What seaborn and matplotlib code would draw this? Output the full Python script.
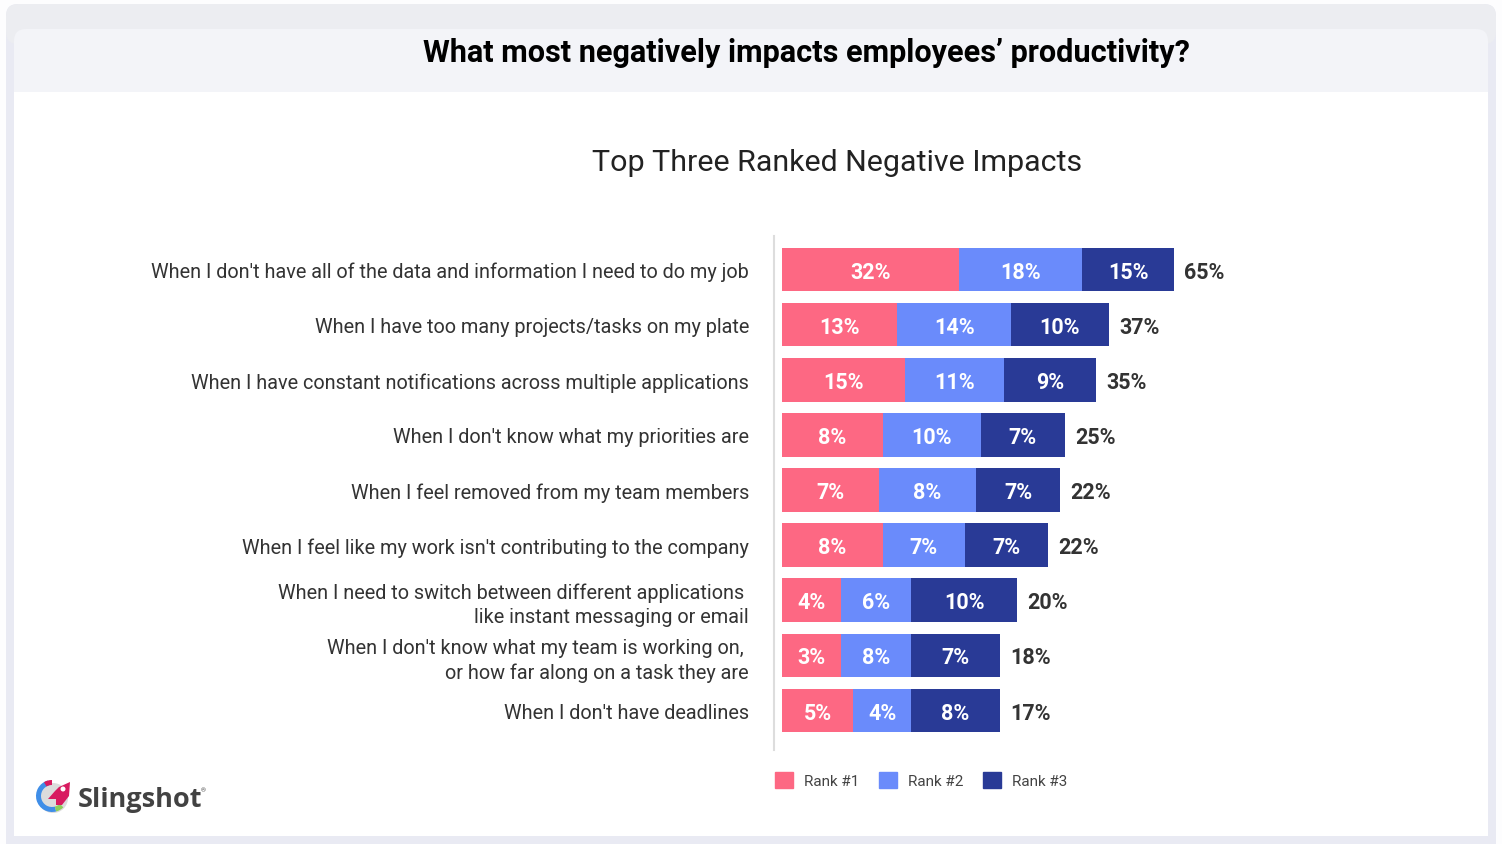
import numpy as np
import pandas as pd
import seaborn as sns
import matplotlib.pyplot as plt
from matplotlib.patches import Rectangle, FancyBboxPatch, Wedge, Polygon, Circle, Patch

categories = ["When I don't have all of the data and information I need to do my job",
              'When I have too many projects/tasks on my plate',
              'When I have constant notifications across multiple applications',
              "When I don't know what my priorities are",
              'When I feel removed from my team members',
              "When I feel like my work isn't contributing to the company",
              'When I need to switch between different applications \nlike instant messaging or email',
              "When I don't know what my team is working on, \nor how far along on a task they are",
              "When I don't have deadlines"]

# printed percentages
rank1_labels = [32, 13, 15, 8, 7, 8, 4, 3, 5]
rank2_labels = [18, 14, 11, 10, 8, 7, 6, 8, 4]
rank3_labels = [15, 10, 9, 7, 7, 7, 10, 7, 8]
total_labels = [65, 37, 35, 25, 22, 22, 20, 18, 17]

# the bars in the picture are not drawn to their printed percentages,
# so these are the segment lengths as read off it (top row total = 65)
rank1_len = [29.4, 19.1, 20.4, 16.7, 16.1, 16.7, 9.8, 9.8, 11.8]
rank2_len = [20.4, 18.9, 16.4, 16.3, 16.1, 13.6, 11.6, 11.6, 9.6]
rank3_len = [15.2, 16.2, 15.3, 13.9, 13.9, 13.8, 17.6, 14.8, 14.8]

rank_names = ['Rank #1', 'Rank #2', 'Rank #3']
rank_colors = ['#fd6883', '#6a8bfb', '#293a96']
text_color = '#333333'

sns.set_theme(style='white')
plt.rcParams['font.family'] = ['Roboto', 'DejaVu Sans']

df = pd.DataFrame({'category': categories, 'r1': rank1_len, 'r2': rank2_len, 'r3': rank3_len})
df['c1'] = df['r1']
df['c2'] = df['c1'] + df['r2']
df['c3'] = df['c2'] + df['r3']

fig = plt.figure(figsize=(15.02, 8.45), dpi=100, facecolor='#fdfdfe')

# card behind the chart, in pixel coordinates
bg = fig.add_axes([0, 0, 1, 1], zorder=0)
bg.set_xlim(0, 1502)
bg.set_ylim(845, 0)
bg.axis('off')
bg.add_patch(FancyBboxPatch((6, 5), 1490, 860, boxstyle='round,pad=0,rounding_size=12', fc='#e9eaf3', ec='none'))
bg.add_patch(FancyBboxPatch((6, 5), 1490, 40, boxstyle='round,pad=0,rounding_size=12', fc='#ecedf1', ec='none'))
bg.add_patch(FancyBboxPatch((14, 30), 1474, 80, boxstyle='round,pad=0,rounding_size=12', fc='#f3f4f8', ec='none'))
bg.add_patch(Rectangle((14, 93), 1474, 744, fc='white', ec='none'))

# logo
bg.add_patch(Circle((53, 799), 15, fc='#dcdcdc', ec='none'))
bg.add_patch(Wedge((52, 797), 16, 75, 255, width=5, fc='#3f8ee8', ec='none'))
bg.add_patch(Wedge((52, 797), 16, 45, 75, width=5, fc='#8ccf5a', ec='none'))
bg.add_patch(Wedge((52, 797), 16, 240, 270, width=5, fc='#d81b60', ec='none'))
bg.add_patch(Polygon([(70, 783), (69, 797), (62, 806), (56, 806), (56, 800), (48, 800), (55, 792), (59, 788)],
                     fc='#d81b60', ec='none'))
bg.add_patch(Circle((63, 790), 2.5, fc='white', ec='none'))
bg.text(78, 800, 'Slingshot', fontsize=19.5, fontweight='bold', family='Open Sans', color='#424242', va='center', ha='left')
bg.text(201, 791, '®', fontsize=4.5, color='#424242', va='center', ha='left')

bg.text(806.5, 53, 'What most negatively impacts employees’ productivity?', fontsize=22.1, fontweight='bold',
        color='black', ha='center', va='center')
bg.text(837, 163, 'Top Three Ranked Negative Impacts', fontsize=21.9, color='#222222', ha='center', va='center')

ax = fig.add_axes([774 / 1502, 1 - 751 / 845, 700 / 1502, 514 / 845], zorder=1)
ax.patch.set_alpha(0)

# layered from the longest so only each segment stays visible
for col, color in zip(['c3', 'c2', 'c1'], rank_colors[::-1]):
    sns.barplot(data=df, x=col, y='category', color=color, width=0.79, saturation=1, linewidth=0, ax=ax, orient='y')

ax.set_xlim(-1.33, 114.8)
ax.set_ylim(8.717, -0.608)
ax.set_xlabel('')
ax.set_ylabel('')
ax.set_xticks([])
ax.tick_params(axis='y', length=0, pad=18, labelsize=14.3, labelcolor=text_color)
for t in ax.get_yticklabels():
    t.set_linespacing(1.32)
    t.set_ha('right')
sns.despine(ax=ax, bottom=True, left=False)
ax.spines['left'].set_color('#dddddd')
ax.spines['left'].set_linewidth(1.5)

inside = dict(color='white', fontsize=15.5, fontweight='bold', ha='center', va='center',
              xytext=(0, -1.5), textcoords='offset points')
for i in range(len(categories)):
    ax.annotate(f'{rank1_labels[i]}%', (df['r1'][i] / 2, i), **inside)
    ax.annotate(f'{rank2_labels[i]}%', (df['c1'][i] + df['r2'][i] / 2, i), **inside)
    ax.annotate(f'{rank3_labels[i]}%', (df['c2'][i] + df['r3'][i] / 2, i), **inside)
    ax.annotate(f'{total_labels[i]}%', (df['c3'][i], i), xytext=(7.5, -1.5), textcoords='offset points',
                color=text_color, fontsize=15.5, fontweight='bold', ha='left', va='center')

handles = [Patch(color=c, label=n) for c, n in zip(rank_colors, rank_names)]
fig.legend(handles=handles, ncol=3, frameon=False, fontsize=11, labelcolor='#444444',
           loc='center left', bbox_to_anchor=(761 / 1502, 1 - 781 / 845),
           handlelength=1.18, handleheight=1.25, handletextpad=0.72, columnspacing=1.29)

fig.savefig('out.png', dpi=100)
